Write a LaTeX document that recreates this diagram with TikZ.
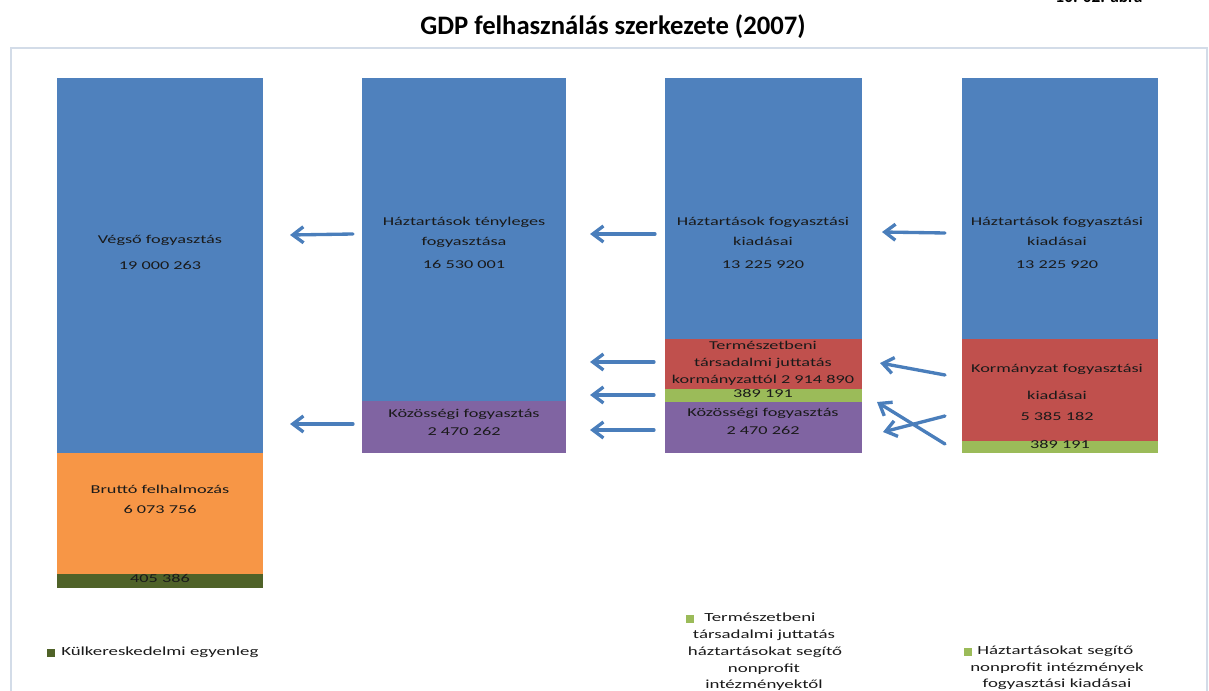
\documentclass[tikz,border=0pt]{standalone}
\usepackage{fontspec}
\setmainfont{Carlito}
\usetikzlibrary{arrows.meta}
\definecolor{cblue}{HTML}{4F81BD}
\definecolor{cred}{HTML}{C0504D}
\definecolor{cgreen}{HTML}{9BBB59}
\definecolor{cpurple}{HTML}{8064A2}
\definecolor{corange}{HTML}{F79646}
\definecolor{cdkgreen}{HTML}{4F6228}
\definecolor{carrow}{HTML}{4A7EBB}
\definecolor{cframe}{HTML}{D3DCE8}
\definecolor{ctext}{HTML}{1A1A1A}
\newcommand\wt[1]{\scalebox{1.52}[1]{#1}}
\newcommand\barseg[6]{\node[segbox,fill=#6,minimum width={(#4-#2)*0.75pt},minimum height={(#5-#3)*0.75pt}] (#1) at ({(#2+#4)/2},{(#3+#5)/2}) {};}
\begin{document}
\begin{tikzpicture}[x=0.75pt,y=-0.75pt,
 segbox/.style={rectangle,inner sep=0,outer sep=0,draw=none},
 lab/.style={inner sep=0,text height=6pt,text depth=1.8pt,font=\fontsize{9}{10}\selectfont,text=ctext},
 leg/.style={inner sep=0,text height=6.4pt,text depth=2pt,font=\fontsize{9.3}{11}\selectfont,text=ctext},
 arr/.style={draw=carrow,line width=2.5pt,-{Straight Barb[length=8pt,width=12pt]},line cap=round},
 sq/.style={fill=#1,minimum size=5.5pt,inner sep=0,outer sep=0}]
\useasboundingbox (0,0) rectangle (1209,691);
\clip (0,0) rectangle (1209,691);
% frame
\draw[cframe,line width=0.8pt] (11,48) rectangle (1207,720);
% title and cut-off figure number
\node[font=\bfseries\fontsize{20}{24}\selectfont,inner sep=0] (title) at (613,27) {GDP felhasználás szerkezete (2007)};
\node[font=\bfseries\fontsize{13}{15}\selectfont,anchor=base,inner sep=0] (fignum) at (1099,3) {10. 02. ábra};
% bars
\barseg{b1blue}{57}{78}{263}{453}{cblue}
\barseg{b1org}{57}{453}{263}{574}{corange}
\barseg{b1kk}{57}{574}{263}{588}{cdkgreen}
\barseg{b2blue}{362}{78}{566}{401}{cblue}
\barseg{b2pur}{362}{401}{566}{453}{cpurple}
\barseg{b3blue}{665}{78}{862}{339}{cblue}
\barseg{b3red}{665}{339}{862}{389}{cred}
\barseg{b3grn}{665}{389}{862}{402}{cgreen}
\barseg{b3pur}{665}{402}{862}{453}{cpurple}
\barseg{b4blue}{962}{78}{1158}{339}{cblue}
\barseg{b4red}{962}{339}{1158}{441}{cred}
\barseg{b4grn}{962}{441}{1158}{453}{cgreen}
% bar 1 labels
\node[lab] (t1a) at (160,241) {\wt{Végső fogyasztás}};
\node[lab] (t1b) at (160,267) {\wt{19 000 263}};
\node[lab] (t1c) at (160,491) {\wt{Bruttó felhalmozás}};
\node[lab] (t1d) at (160,511) {\wt{6 073 756}};
\node[lab] (t1e) at (160,580) {\wt{405 386}};
% bar 2 labels
\node[lab] (t2a) at (464,223) {\wt{Háztartások tényleges}};
\node[lab] (t2b) at (464,243) {\wt{fogyasztása}};
\node[lab] (t2c) at (464,266) {\wt{16 530 001}};
\node[lab] (t2d) at (464,415) {\wt{Közösségi fogyasztás}};
\node[lab] (t2e) at (464,433) {\wt{2 470 262}};
% bar 3 labels
\node[lab] (t3a) at (763,223) {\wt{Háztartások fogyasztási}};
\node[lab] (t3b) at (763,243) {\wt{kiadásai}};
\node[lab] (t3c) at (763,266) {\wt{13 225 920}};
\node[lab] (t3d) at (763,347) {\wt{Természetbeni}};
\node[lab] (t3e) at (763,364) {\wt{társadalmi juttatás}};
\node[lab] (t3f) at (763,381) {\wt{kormányzattól 2 914 890}};
\node[lab] (t3g) at (763,395) {\wt{389 191}};
\node[lab] (t3h) at (763,414) {\wt{Közösségi fogyasztás}};
\node[lab] (t3i) at (763,432) {\wt{2 470 262}};
% bar 4 labels
\node[lab] (t4a) at (1057,223) {\wt{Háztartások fogyasztási}};
\node[lab] (t4b) at (1057,243) {\wt{kiadásai}};
\node[lab] (t4c) at (1057,266) {\wt{13 225 920}};
\node[lab] (t4d) at (1057,370) {\wt{Kormányzat fogyasztási}};
\node[lab] (t4e) at (1057,397) {\wt{kiadásai}};
\node[lab] (t4f) at (1057,418) {\wt{5 385 182}};
\node[lab] (t4g) at (1060,446) {\wt{389 191}};
% arrow end points
\coordinate (a1s) at (353,234); \coordinate (a1e) at (290,235);
\coordinate (a2s) at (655,234); \coordinate (a2e) at (590,234);
\coordinate (a3s) at (945,233); \coordinate (a3e) at (882,232);
\coordinate (a4s) at (654,362); \coordinate (a4e) at (590,362);
\coordinate (a5s) at (654,395); \coordinate (a5e) at (590,395);
\coordinate (a6s) at (353,424); \coordinate (a6e) at (290,424);
\coordinate (a7s) at (654,430); \coordinate (a7e) at (590,430);
\coordinate (a8s) at (945,375); \coordinate (a8e) at (880,363);
\coordinate (a9s) at (945,416); \coordinate (a9e) at (883,432);
\coordinate (a10s) at (945,444); \coordinate (a10e) at (877,402);
\foreach \i in {1,...,10} \draw[arr] (a\i s) -- (a\i e);
% legend
\node[sq=cdkgreen] (k1) at (51,653) {};
\node[leg,anchor=west] (k1t) at (61,653) {\wt{Külkereskedelmi egyenleg}};
\node[sq=cgreen] (k2) at (690,619) {};
\node[leg,anchor=west] (k2a) at (704,619) {\wt{Természetbeni}};
\node[leg] (k2b) at (764,636) {\wt{társadalmi juttatás}};
\node[leg] (k2c) at (765,653) {\wt{háztartásokat segítő}};
\node[leg] (k2d) at (764,670) {\wt{nonprofit}};
\node[leg] (k2e) at (764,686) {\wt{intézményektől}};
\node[sq=cgreen] (k3) at (968,652) {};
\node[leg,anchor=west] (k3a) at (977,652) {\wt{Háztartásokat segítő}};
\node[leg] (k3b) at (1057,669) {\wt{nonprofit intézmények}};
\node[leg] (k3c) at (1057,685) {\wt{fogyasztási kiadásai}};
\end{tikzpicture}
\end{document}
